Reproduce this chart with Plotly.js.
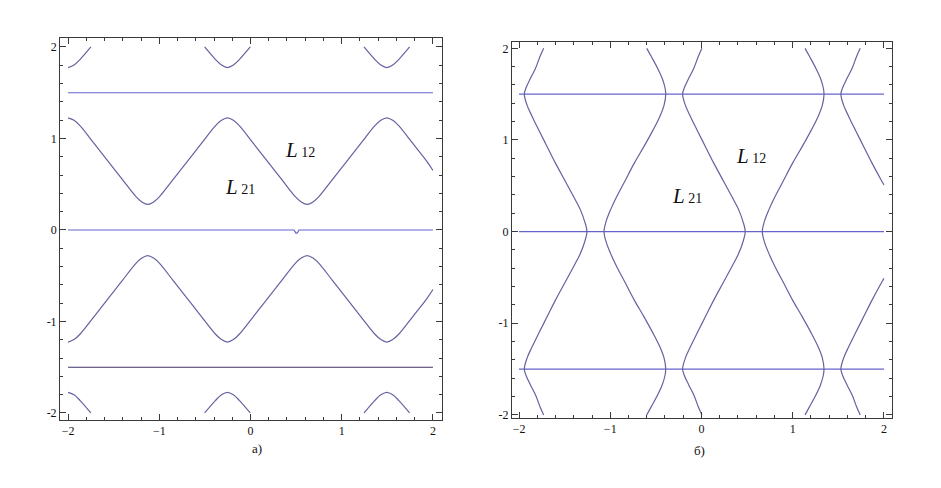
<!DOCTYPE html>
<html>
<head>
<meta charset="utf-8">
<script src="https://cdn.plot.ly/plotly-3.0.1.min.js"></script>
<style>html,body{margin:0;padding:0;background:#fff;}#chart{width:941px;height:488px;}</style>
</head>
<body>
<div id="chart"></div>
<script>
// ---------- tick labels ----------
const tickVals = [-2, -1, 0, 1, 2];
const xTickText = ["\u22122", "\u22121", "0", "1", "2"];
const yTickText = ["-2", "-1", "0", "1", "2"];
const panelLabels = ["а)", "б)"];
const curveLabels = ["L", "12", "21"];

// ---------- panel a) ----------
const hLineX = [-2, 2];
const hLineTopY = [1.5, 1.5];
const hLineBotY = [-1.5, -1.5];
const zeroLineAX = [-2, 0.475, 0.50, 0.515, 0.53, 2];
const zeroLineAY = [0, 0, -0.035, -0.03, 0, 0];

const waveX = [-2.0, -1.935, -1.87, -1.715, -1.563, -1.41, -1.256, -1.191, -1.1265,
               -1.062, -0.997, -0.843, -0.690, -0.538, -0.383, -0.318, -0.253,
               -0.188, -0.123, 0.032, 0.184, 0.337, 0.491, 0.556, 0.6205,
               0.685, 0.750, 0.904, 1.057, 1.209, 1.364, 1.429, 1.494,
               1.559, 1.624, 1.779, 1.931, 2.0];
const waveUpY = [1.225, 1.198, 1.14, 0.946, 0.7525, 0.559, 0.365, 0.307, 0.28,
                 0.307, 0.365, 0.559, 0.7525, 0.946, 1.14, 1.198, 1.225,
                 1.198, 1.14, 0.946, 0.7525, 0.559, 0.365, 0.307, 0.28,
                 0.307, 0.365, 0.559, 0.7525, 0.946, 1.14, 1.198, 1.225,
                 1.198, 1.14, 0.946, 0.7525, 0.65];
const waveLowY = [-1.225, -1.198, -1.14, -0.946, -0.7525, -0.559, -0.365, -0.307, -0.28,
                  -0.307, -0.365, -0.559, -0.7525, -0.946, -1.14, -1.198, -1.225,
                  -1.198, -1.14, -0.946, -0.7525, -0.559, -0.365, -0.307, -0.28,
                  -0.307, -0.365, -0.559, -0.7525, -0.946, -1.14, -1.198, -1.225,
                  -1.198, -1.14, -0.946, -0.7525, -0.65];

const arc1X = [-2.0, -1.935, -1.87, -1.75];
const arc1TopY = [1.775, 1.802, 1.862, 2.0];
const arc1BotY = [-1.775, -1.802, -1.862, -2.0];
const arc2X = [-0.503, -0.383, -0.318, -0.253, -0.188, -0.123, -0.003];
const arc3X = [1.244, 1.364, 1.429, 1.494, 1.559, 1.624, 1.744];
const arcTopY = [2.0, 1.862, 1.802, 1.775, 1.802, 1.862, 2.0];
const arcBotY = [-2.0, -1.862, -1.802, -1.775, -1.802, -1.862, -2.0];

// ---------- panel б) ----------
const curveY = [2.0, 1.91, 1.78, 1.67, 1.57, 1.5, 1.38, 1.26, 1.11, 0.93, 0.75, 0.55, 0.38, 0.24, 0.11, 0,
                -0.11, -0.24, -0.38, -0.55, -0.75, -0.93, -1.11, -1.26, -1.38, -1.5, -1.57, -1.67, -1.78, -1.91, -2.0];
const curveAX = [-1.73, -1.77, -1.82, -1.876, -1.923, -1.942, -1.912, -1.858, -1.784, -1.693, -1.602, -1.493, -1.401, -1.328, -1.28, -1.255,
                 -1.28, -1.328, -1.401, -1.493, -1.602, -1.693, -1.784, -1.858, -1.912, -1.942, -1.923, -1.876, -1.82, -1.77, -1.73];
const curveBX = [-0.60, -0.55, -0.48, -0.43, -0.40, -0.392, -0.41, -0.455, -0.53, -0.63, -0.735, -0.84, -0.93, -0.996, -1.046, -1.068,
                 -1.046, -0.996, -0.93, -0.84, -0.735, -0.63, -0.53, -0.455, -0.41, -0.392, -0.40, -0.43, -0.48, -0.55, -0.60];
const curveCX = [0.005, -0.035, -0.085, -0.141, -0.188, -0.207, -0.177, -0.123, -0.049, 0.042, 0.133, 0.242, 0.334, 0.407, 0.455, 0.48,
                 0.455, 0.407, 0.334, 0.242, 0.133, 0.042, -0.049, -0.123, -0.177, -0.207, -0.188, -0.141, -0.085, -0.035, 0.005];
const curveDX = [1.135, 1.185, 1.255, 1.305, 1.335, 1.343, 1.325, 1.28, 1.205, 1.105, 1.0, 0.895, 0.805, 0.739, 0.689, 0.667,
                 0.689, 0.739, 0.805, 0.895, 1.0, 1.105, 1.205, 1.28, 1.325, 1.343, 1.335, 1.305, 1.255, 1.185, 1.135];
const curveEX = [1.74, 1.70, 1.65, 1.594, 1.547, 1.528, 1.558, 1.612, 1.686, 1.777, 1.868, 1.977, 2.0];
const curveETopY = [2.0, 1.91, 1.78, 1.67, 1.57, 1.5, 1.38, 1.26, 1.11, 0.93, 0.75, 0.55, 0.51];
const curveEBotY = [-2.0, -1.91, -1.78, -1.67, -1.57, -1.5, -1.38, -1.26, -1.11, -0.93, -0.75, -0.55, -0.51];
const zeroLineBX = [-2, 2];
const zeroLineBY = [0, 0];

// ---------- styles ----------
const waveColor = "rgb(100,98,160)";
const hColor = "rgb(100,100,205)";
const darkH = "rgb(64,48,100)";
const W = 1.2;

function tr(x, y, color, xa, ya, smooth) {
  return {
    x: x, y: y, type: "scatter", mode: "lines", xaxis: xa, yaxis: ya,
    line: {color: color, width: W, shape: smooth ? "spline" : "linear", smoothing: 1},
    hoverinfo: "skip", showlegend: false
  };
}

const data = [
  // panel a
  tr(hLineX, hLineTopY, hColor, "x", "y", false),
  tr(hLineX, hLineBotY, darkH, "x", "y", false),
  tr(zeroLineAX, zeroLineAY, hColor, "x", "y", false),
  tr(waveX, waveUpY, waveColor, "x", "y", true),
  tr(waveX, waveLowY, waveColor, "x", "y", true),
  tr(arc1X, arc1TopY, waveColor, "x", "y", true),
  tr(arc1X, arc1BotY, waveColor, "x", "y", true),
  tr(arc2X, arcTopY, waveColor, "x", "y", true),
  tr(arc2X, arcBotY, waveColor, "x", "y", true),
  tr(arc3X, arcTopY, waveColor, "x", "y", true),
  tr(arc3X, arcBotY, waveColor, "x", "y", true),
  // panel б
  tr(hLineX, hLineTopY, hColor, "x2", "y2", false),
  tr(zeroLineBX, zeroLineBY, hColor, "x2", "y2", false),
  tr(hLineX, hLineBotY, hColor, "x2", "y2", false),
  tr(curveAX, curveY, waveColor, "x2", "y2", true),
  tr(curveBX, curveY, waveColor, "x2", "y2", true),
  tr(curveCX, curveY, waveColor, "x2", "y2", true),
  tr(curveDX, curveY, waveColor, "x2", "y2", true),
  tr(curveEX, curveETopY, waveColor, "x2", "y2", true),
  tr(curveEX, curveEBotY, waveColor, "x2", "y2", true)
];

const frameColor = "#3a3a3a";
const tickFont = {family: "Liberation Serif, Times New Roman, serif", size: 12, color: "#111"};
function axis(domain, range, ticktext, anchor) {
  return {
    domain: domain, range: range, anchor: anchor,
    tickmode: "array", tickvals: tickVals, ticktext: ticktext,
    ticks: "inside", ticklen: 6, tickwidth: 1, tickcolor: frameColor,
    minor: {tickmode: "linear", tick0: 0, dtick: 0.2, ticks: "inside", ticklen: 3, tickwidth: 1, tickcolor: frameColor, showgrid: false},
    showline: true, linecolor: frameColor, linewidth: 1, mirror: "allticks",
    showgrid: false, zeroline: false, tickfont: tickFont, fixedrange: true
  };
}

function curveLabel(sub, x, y, xr, yr) {
  return {
    xref: xr, yref: yr, x: x, y: y, showarrow: false,
    text: "<i>" + curveLabels[0] + "</i><span style='font-size:14px'> " + sub + "</span>",
    font: {family: "Liberation Serif, Times New Roman, serif", size: 21, color: "#111"}
  };
}

const layout = {
  width: 941, height: 488,
  margin: {l: 0, r: 0, t: 0, b: 0},
  paper_bgcolor: "#fff", plot_bgcolor: "#fff",
  showlegend: false,
  xaxis: axis([0.0638, 0.4697], [-2.088, 2.099], xTickText, "y"),
  yaxis: axis([0.1393, 0.9221], [-2.077, 2.098], yTickText, "x"),
  xaxis2: axis([0.5441, 0.9479], [-2.077, 2.088], xTickText, "y2"),
  yaxis2: axis([0.1434, 0.9139], [-2.034, 2.069], yTickText, "x2"),
  annotations: [
    curveLabel(curveLabels[1], 0.54, 0.87, "x", "y"),
    curveLabel(curveLabels[2], -0.12, 0.47, "x", "y"),
    curveLabel(curveLabels[1], 0.54, 0.82, "x2", "y2"),
    curveLabel(curveLabels[2], -0.16, 0.39, "x2", "y2"),
    {xref: "paper", yref: "paper", x: 250/941, y: 30/488, showarrow: false, text: panelLabels[0],
     font: {family: "Liberation Serif, Times New Roman, serif", size: 13, color: "#111"}},
    {xref: "paper", yref: "paper", x: 707/941, y: 28/488, showarrow: false, text: panelLabels[1],
     font: {family: "Liberation Serif, Times New Roman, serif", size: 13, color: "#111"}}
  ]
};

Plotly.newPlot("chart", data, layout, {displayModeBar: false, staticPlot: true});
</script>
</body>
</html>
